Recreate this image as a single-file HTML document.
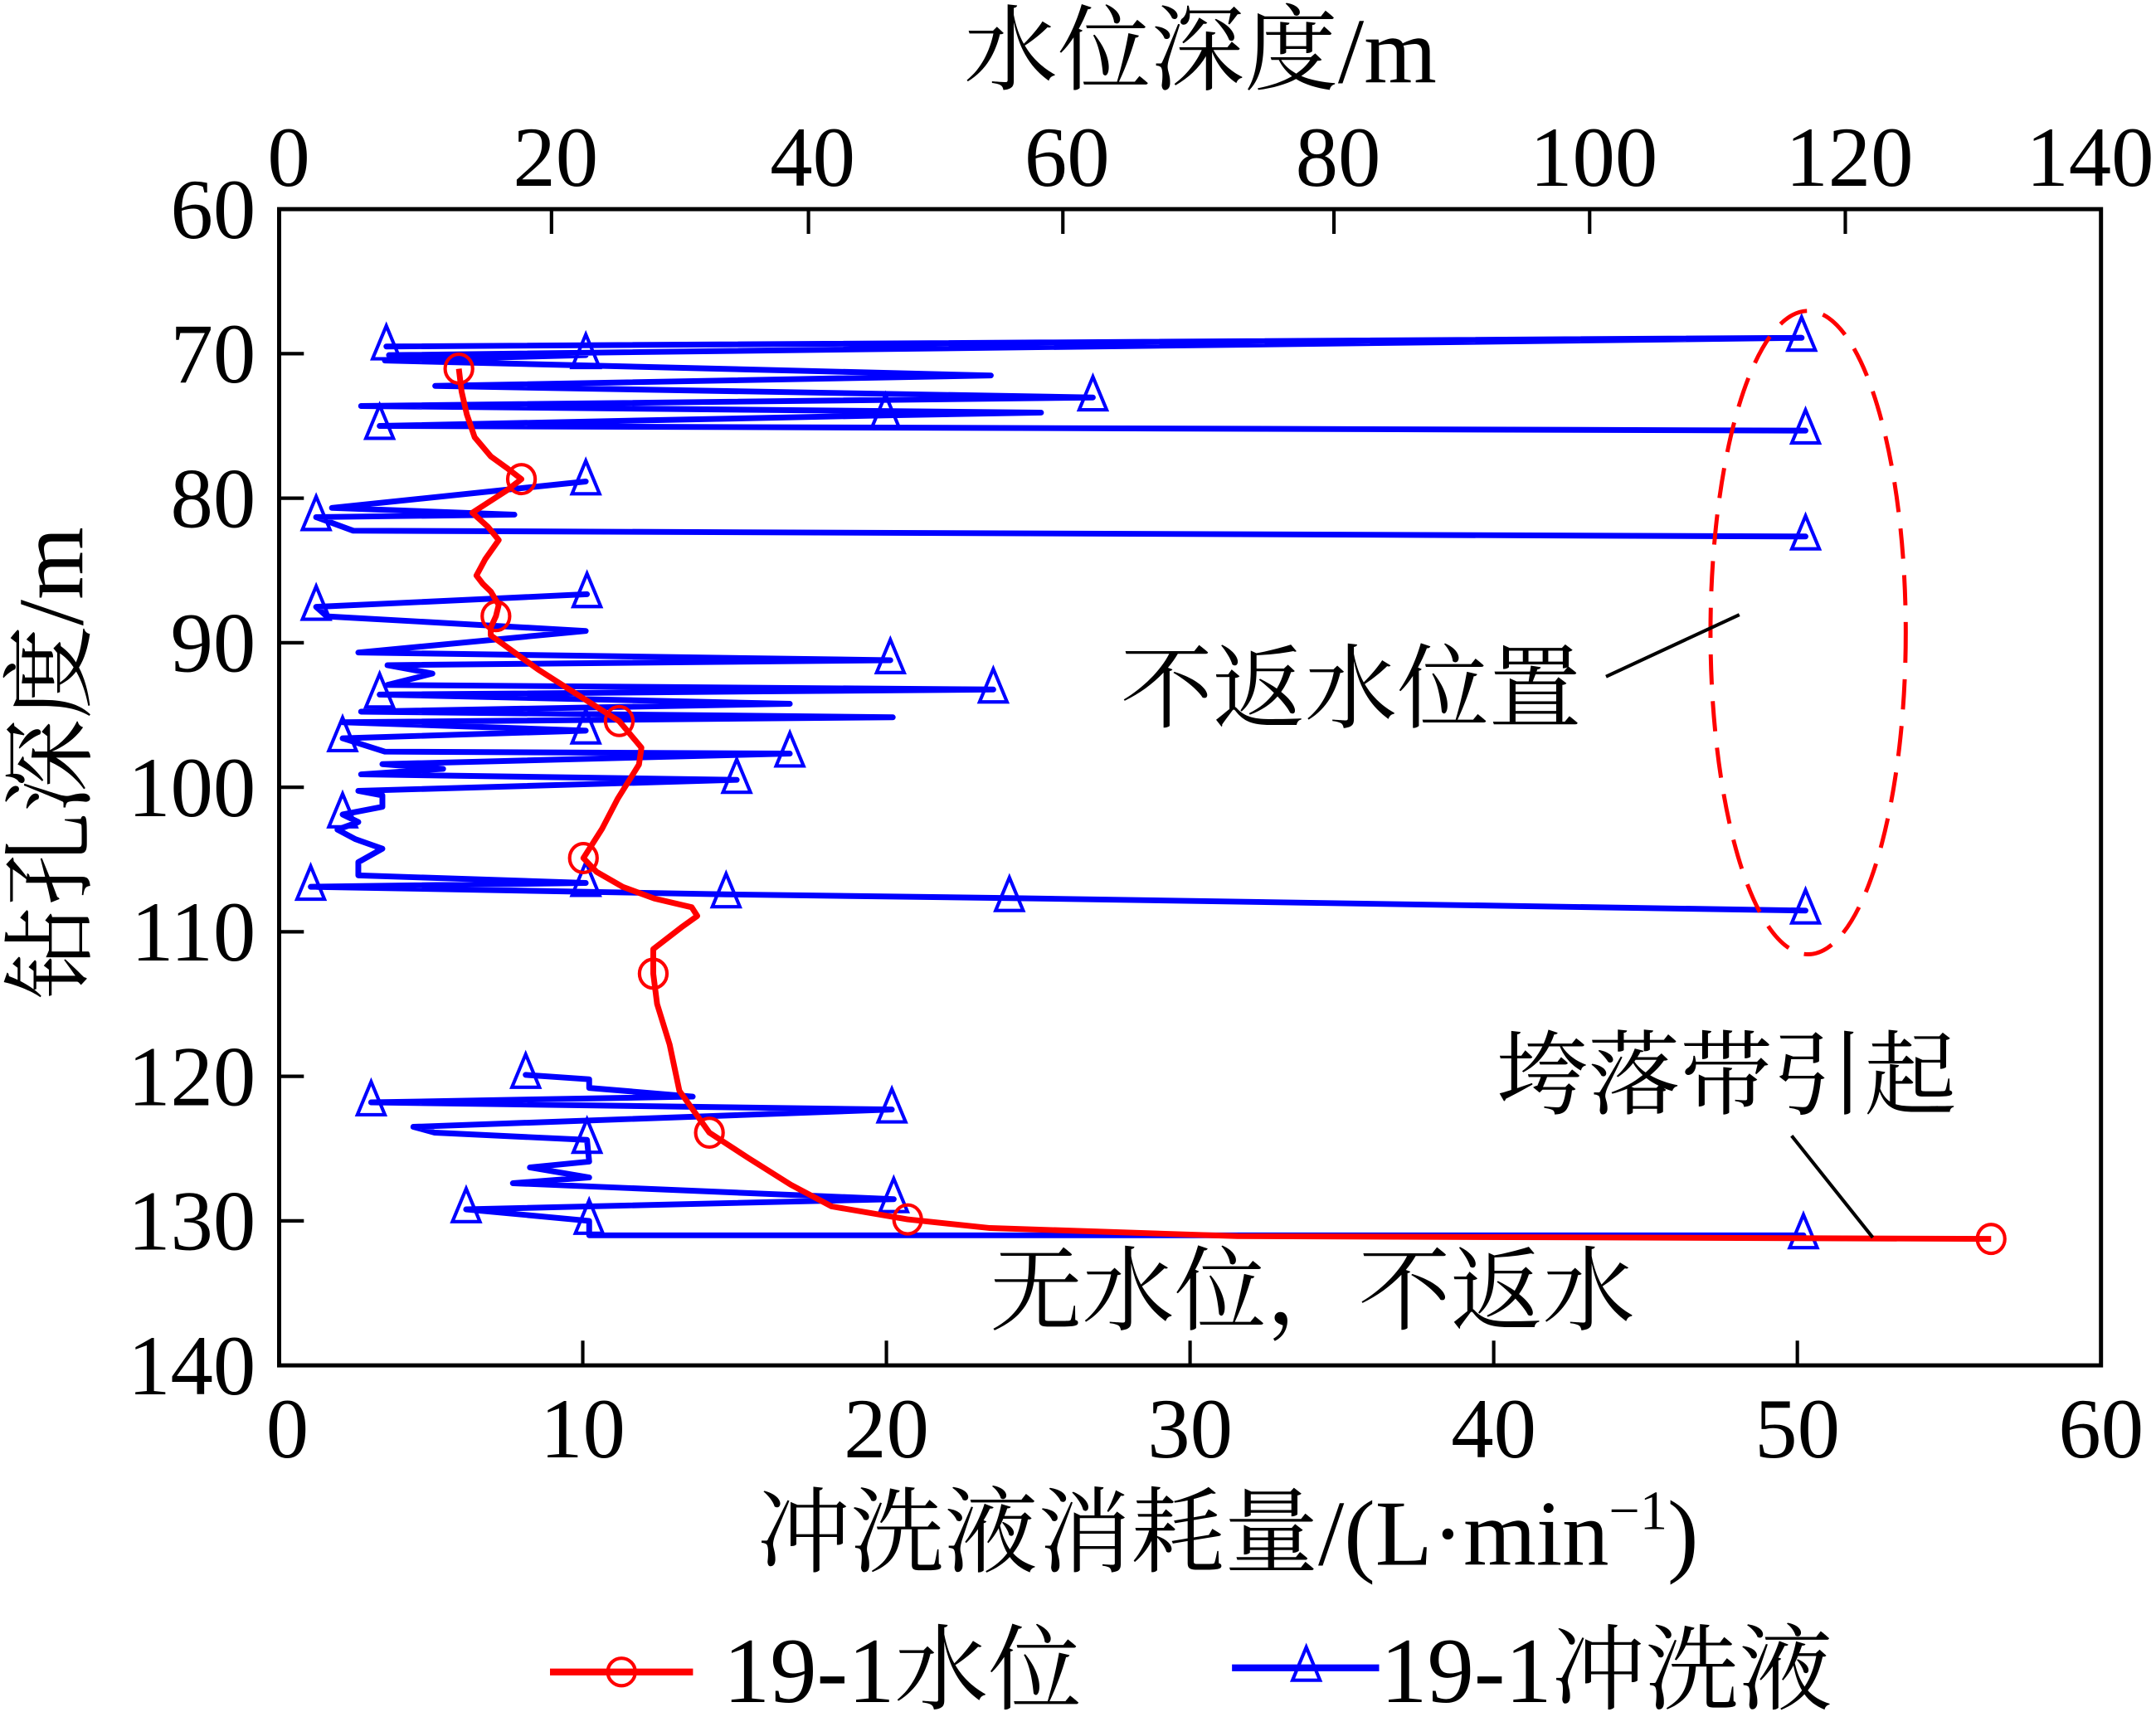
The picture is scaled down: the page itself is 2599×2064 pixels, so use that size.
<!DOCTYPE html>
<html><head><meta charset="utf-8"><style>
html,body{margin:0;padding:0;background:#fff}
svg{display:block}
text{font-family:"Liberation Serif","Noto Serif CJK SC","Noto Sans CJK SC",serif;fill:#000}
</style></head><body>
<svg id="chart" xmlns="http://www.w3.org/2000/svg" width="2599" height="2064" viewBox="0 0 1568 1245">
<rect x="0" y="0" width="1568" height="1245" fill="#fff"/>
<g id="plot"></g>
<g id="axes"></g>
<text x="873" y="60" font-size="68" text-anchor="middle">水位深度/m</text>
<text x="893" y="1138" font-size="68" text-anchor="middle">冲洗液消耗量/(L·min<tspan font-size="40" dy="-26">−1</tspan><tspan dy="26">)</tspan></text>
<text transform="translate(60,555) rotate(-90)" font-size="68" text-anchor="middle">钻孔深度/m</text>
<ellipse cx="1315" cy="460" rx="71" ry="234" fill="none" stroke="#f00" stroke-width="3" stroke-dasharray="22,12"/>
<text x="815" y="524" font-size="67">不返水位置</text>
<line x1="1168" y1="492" x2="1265" y2="447" stroke="#000" stroke-width="2.5"/>
<text x="1088" y="805" font-size="67">垮落带引起</text>
<line x1="1303" y1="826" x2="1362" y2="900" stroke="#000" stroke-width="2.5"/>
<text x="720" y="962" font-size="67">无水位，不返水</text>
<g>
<g>
<line x1="400" y1="1216" x2="504" y2="1216" stroke="#f00" stroke-width="5"/>
<ellipse cx="452" cy="1216" rx="10" ry="10" fill="none" stroke="#f00" stroke-width="2.5"/>
<text x="526" y="1238" font-size="68">19-1水位</text>
</g>
<g>
<line x1="896" y1="1213" x2="1003" y2="1213" stroke="#00f" stroke-width="5"/>
<polygon points="950,1198 940,1222 960,1222" fill="none" stroke="#00f" stroke-width="2.5"/>
<text x="1004" y="1238" font-size="68">19-1冲洗液</text>
</g>
</g>
</svg>
<script>
// Water level series (bottom-axis units) vs borehole depth
const redX=[5.92,6.01,6.18,6.44,6.97,7.49,7.98,7.49,6.36,6.88,7.23,6.79,6.50,6.71,6.97,7.23,7.14,6.97,6.97,8.53,10.10,11.20,11.93,11.85,11.15,10.63,10.02,10.45,11.32,12.36,13.59,13.77,13.24,12.32,12.32,12.45,12.86,13.18,14.17,15.49,16.85,18.20,20.70,23.41,31.56,56.38];
const redY=[71.04,72.62,74.20,75.78,77.10,77.89,78.68,79.47,81.00,81.98,82.90,84.22,85.35,85.93,86.45,87.38,88.16,88.95,89.49,91.86,93.96,95.42,97.26,98.43,100.8,102.9,104.9,105.85,106.9,107.7,108.3,108.9,109.7,111.2,112.9,115.0,117.8,121.0,123.9,125.7,127.5,129.0,129.9,130.5,131.06,131.25];
const redMarkers=[0,6,16,21,26,34,38,42,45];
// Flushing fluid consumption series (null = gap)
const blueX=[3.53,50.14,3.62,10.10,3.48,23.44,5.14,26.80,2.70,25.09,19.97,3.31,50.27,null,
10.10,1.74,7.75,1.22,2.44,50.27,null,
10.14,1.22,1.57,10.10,2.61,20.13,3.57,5.05,3.57,23.52,3.31,16.82,2.70,20.21,2.09,10.10,2.09,3.48,16.82,3.40,5.40,2.70,15.07,2.61,3.40,3.40,2.09,2.61,1.92,2.52,3.40,2.61,2.61,10.10,1.04,14.72,24.05,50.27,null,
8.12,10.21,10.21,13.62,3.03,20.18,4.42,5.12,10.14,10.21,8.26,10.21,7.70,20.24,6.16,10.21,10.21,50.2];
const blueY=[69.5,68.9,70.1,70.1,70.47,71.51,72.23,73.03,73.62,74.08,74.27,75.0,75.32,null,
78.84,80.67,81.14,81.31,82.25,82.65,null,
86.64,87.52,88.18,89.18,90.68,91.21,91.55,92.13,92.92,93.24,93.59,94.23,94.77,95.16,95.50,96.08,96.61,97.54,97.67,98.40,98.73,99.11,99.49,100.25,100.56,101.35,101.88,102.41,102.93,103.60,104.25,105.18,106.10,106.62,106.89,107.41,107.67,108.53,null,
119.9,120.2,120.8,121.4,121.8,122.3,123.5,123.9,124.4,125.9,126.3,127.0,127.4,128.5,129.2,130.0,131.0,131.0];
const blueMarkers=[0,1,3,7,10,11,12,14,17,19,21,22,26,30,31,36,37,39,43,47,54,55,56,57,58,60,64,65,68,73,74,75,77];
const bottomTicks=[0,10,20,30,40,50,60];
const leftTicks=[60,70,80,90,100,110,120,130,140];
const topTickLabels=["0","20","40","60","80","100","120","140"];
const topTickValues=[0,21.2,41.2,61,82.1,102,121.9,141.8];

const L=203,R=1528,T=152,B=993;
const xs=v=>L+(v/60)*(R-L);
const ys=v=>T+((v-60)/80)*(B-T);
const NS="http://www.w3.org/2000/svg";
const plot=document.getElementById('plot');
const axes=document.getElementById('axes');
function mk(tag,attrs,parent){const e=document.createElementNS(NS,tag);for(const k in attrs)e.setAttribute(k,attrs[k]);parent.appendChild(e);return e;}

let d="",pen=false;
for(let i=0;i<blueX.length;i++){
  if(blueX[i]===null){pen=false;continue;}
  d+=(pen?"L":"M")+xs(blueX[i]).toFixed(1)+","+ys(blueY[i]).toFixed(1);pen=true;
}
const bl=mk('path',{d:d,fill:'none',stroke:'#00f','stroke-width':4.2,'stroke-linejoin':'round','stroke-linecap':'round'},plot);


blueMarkers.forEach(i=>{
  const x=xs(blueX[i]),y=ys(blueY[i]);
  const p=mk('polygon',{points:`${x},${y-15} ${x-10},${y+9} ${x+10},${y+9}`,fill:'none',stroke:'#00f','stroke-width':2.5},plot);
  
  
});
let rd="";
for(let i=0;i<redX.length;i++)rd+=(i?"L":"M")+xs(redX[i]).toFixed(1)+","+ys(redY[i]).toFixed(1);
const rl=mk('path',{d:rd,fill:'none',stroke:'#f00','stroke-width':4.2,'stroke-linejoin':'round'},plot);


redMarkers.forEach(i=>{
  const c=mk('ellipse',{cx:xs(redX[i]),cy:ys(redY[i]),rx:10,ry:10.5,fill:'none',stroke:'#f00','stroke-width':2.5},plot);
  
  
});
const fr=mk('rect',{x:L,y:T,width:R-L,height:B-T,fill:'none',stroke:'#000','stroke-width':3},axes);


bottomTicks.forEach(v=>{
  const x=xs(v);
  const t=mk('line',{x1:x,y1:B,x2:x,y2:B-18,stroke:'#000','stroke-width':2.5},axes);
  
  
  const tx=mk('text',{x:x+(v===0?6:0),y:1060,'font-size':62,'text-anchor':'middle'},axes);
  tx.textContent=String(v);
  
  
});
leftTicks.forEach(v=>{
  const y=ys(v);
  const t=mk('line',{x1:L,y1:y,x2:L+18,y2:y,stroke:'#000','stroke-width':2.5},axes);
  
  
  const tx=mk('text',{x:186,y:y+21,'font-size':62,'text-anchor':'end'},axes);
  tx.textContent=String(v);
  
  
});
topTickValues.forEach((v,i)=>{
  const x=L+(v/141.8)*(R-L);
  if(i>0&&i<topTickValues.length-1){
    const t=mk('line',{x1:x,y1:T,x2:x,y2:T+18,stroke:'#000','stroke-width':2.5},axes);
    
    
  }
  const tx=mk('text',{x:i===0?210:(i===topTickValues.length-1?1520:x+3),y:135,'font-size':62,'text-anchor':'middle'},axes);
  tx.textContent=topTickLabels[i];
  
  
});
</script>
</body></html>
